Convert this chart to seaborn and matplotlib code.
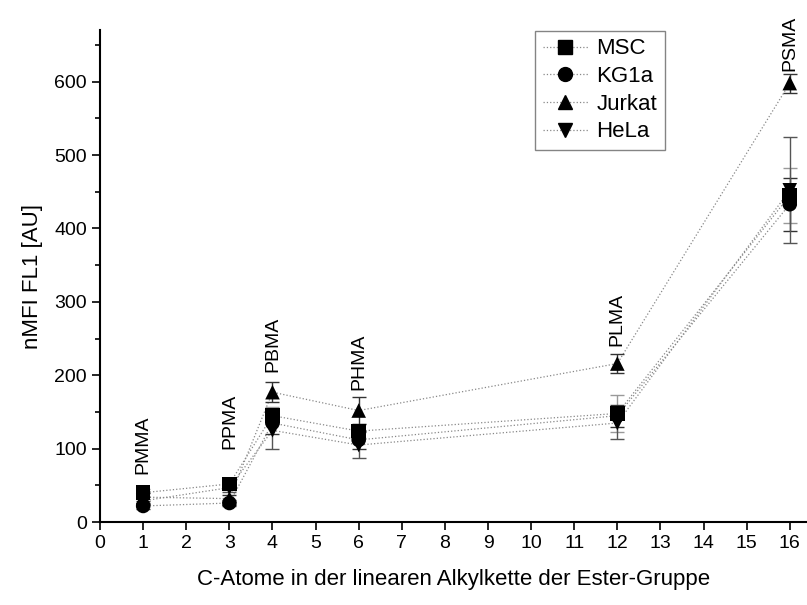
import matplotlib
matplotlib.use("Agg")
import matplotlib.pyplot as plt
from matplotlib.lines import Line2D
from matplotlib.ticker import MultipleLocator
import seaborn as sns
import pandas as pd

# C-atoms in the ester side chain
carbons = [1, 3, 4, 6, 12, 16]
polymers = ["PMMA", "PPMA", "PBMA", "PHMA", "PLMA", "PSMA"]
label_y = [65, 100, 205, 180, 240, 615]

cells = ["MSC", "KG1a", "Jurkat", "HeLa"]
msc = [40, 52, 145, 124, 148, 445]
kg1a = [22, 26, 135, 112, 145, 433]
jurkat = [34, 32, 177, 152, 216, 598]
hela = [29, 47, 125, 105, 135, 452]

msc_err = [5, 6, 12, 10, 25, 38]
kg1a_err = [4, 4, 15, 12, 15, 36]
jurkat_err = [5, 5, 14, 18, 13, 13]
hela_err = [5, 6, 25, 18, 22, 72]

markers = {"MSC": "s", "KG1a": "o", "Jurkat": "^", "HeLa": "v"}
err_colors = {"MSC": "#999999", "KG1a": "#333333", "Jurkat": "#333333", "HeLa": "#555555"}

values = {"MSC": msc, "KG1a": kg1a, "Jurkat": jurkat, "HeLa": hela}
errors = {"MSC": msc_err, "KG1a": kg1a_err, "Jurkat": jurkat_err, "HeLa": hela_err}

rows = []
for c in cells:
    for x, y, e in zip(carbons, values[c], errors[c]):
        rows.append({"C": x, "nMFI": y, "err": e, "cell": c})
df = pd.DataFrame(rows)

sns.set_style("ticks")
plt.rcParams["font.family"] = ["Liberation Sans", "DejaVu Sans"]
plt.rcParams.update({"text.color": "black", "axes.labelcolor": "black",
                     "xtick.color": "black", "ytick.color": "black",
                     "axes.edgecolor": "black"})

fig = plt.figure(figsize=(8.07, 6.05), dpi=100)
ax = fig.add_axes([0.124, 0.137, 0.876, 0.813])

sns.lineplot(data=df, x="C", y="nMFI", hue="cell", palette=["#888888"] * 4,
             linestyle=":", linewidth=0.9, legend=False, ax=ax, zorder=1)

for c in cells:
    sub = df[df["cell"] == c]
    ax.errorbar(sub["C"], sub["nMFI"], yerr=sub["err"], fmt="none",
                ecolor=err_colors[c], elinewidth=1, capsize=5, capthick=1, zorder=2)

sns.scatterplot(data=df, x="C", y="nMFI", style="cell", markers=markers,
                color="black", s=110, edgecolor="black", linewidth=0,
                legend=False, ax=ax, zorder=3)

for x, name, ly in zip(carbons, polymers, label_y):
    ax.text(x, ly, name, rotation=90, ha="center", va="bottom", fontsize=14)

ax.set_xlim(0, 16.4)
ax.set_ylim(0, 670)
ax.xaxis.set_major_locator(MultipleLocator(1))
ax.yaxis.set_major_locator(MultipleLocator(100))
ax.yaxis.set_minor_locator(MultipleLocator(50))
ax.tick_params(axis="both", which="major", direction="out", length=6, width=1.2, labelsize=14)
ax.tick_params(axis="y", which="minor", direction="out", length=3.5, width=1.2)
sns.despine(ax=ax)
for s in ["left", "bottom"]:
    ax.spines[s].set_linewidth(1.5)

ax.set_xlabel("C-Atome in der linearen Alkylkette der Ester-Gruppe", fontsize=16, labelpad=12)
ax.set_ylabel("nMFI FL1 [AU]", fontsize=16, labelpad=8)

handles = [Line2D([0], [0], color="#888888", linestyle=":", linewidth=0.9,
                  marker=markers[c], markersize=10, markerfacecolor="black",
                  markeredgecolor="black") for c in cells]
ax.legend(handles, cells, loc="upper left", bbox_to_anchor=(0.6, 1.022),
          fontsize=16, frameon=True, fancybox=False, edgecolor="#666666",
          handlelength=2.0, handletextpad=0.4, borderpad=0.35, labelspacing=0.3)

fig.savefig("out.png", dpi=100)
